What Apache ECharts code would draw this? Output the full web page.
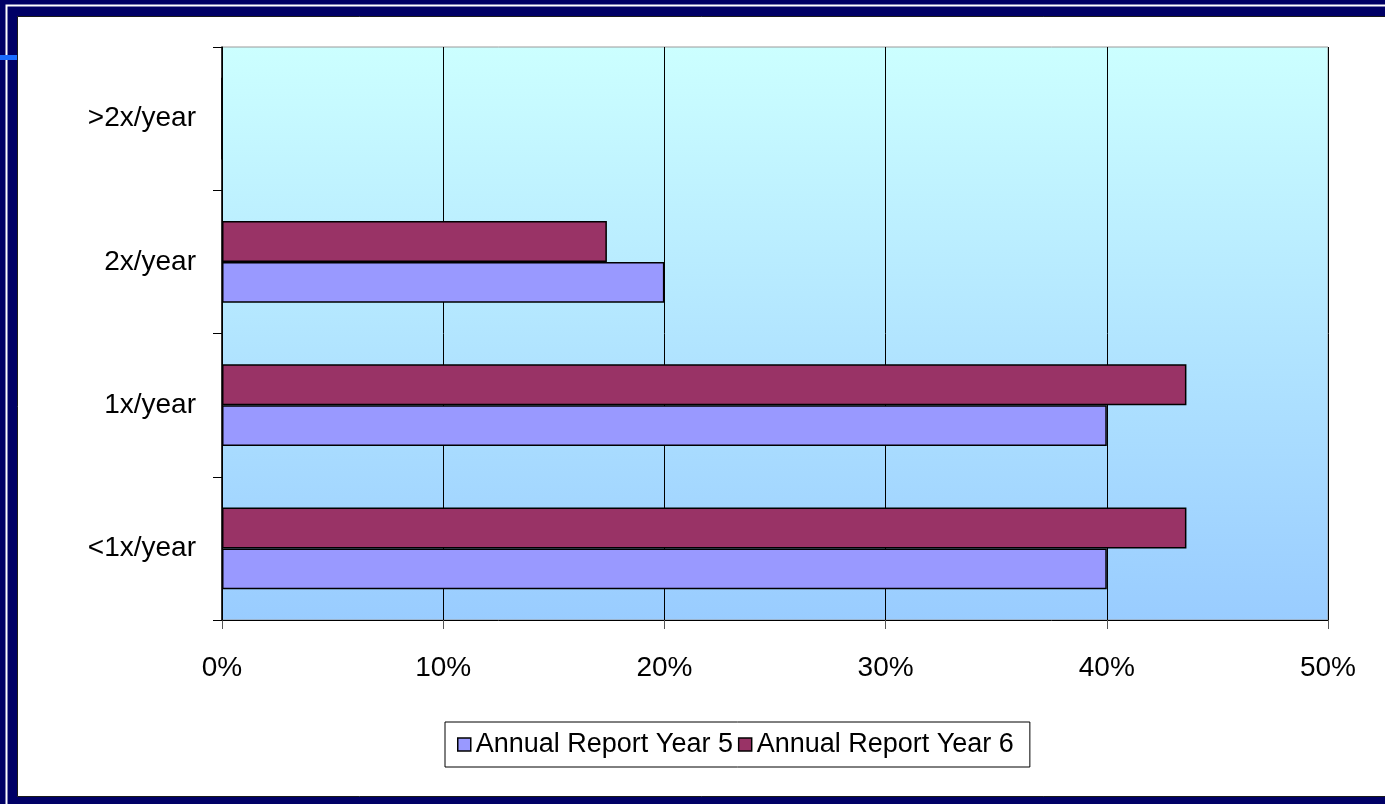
<!DOCTYPE html>
<html>
<head>
<meta charset="utf-8">
<title>Frequency chart</title>
<script src="https://cdn.jsdelivr.net/npm/echarts@6/dist/echarts.min.js"></script>
<style>
	html, body { margin: 0; padding: 0; background: #000066; }
	#chart { width: 1385px; height: 804px; }
</style>
</head>
<body>
<div id="chart"></div>
<script>
var categories = ['<1x/year', '1x/year', '2x/year', '>2x/year'];
var seriesNames = ['Annual Report Year 5', 'Annual Report Year 6'];
var year5 = [40, 40, 20, 0];
var year6 = [43.6, 43.6, 17.4, 0];
var xTicks = [0, 10, 20, 30, 40, 50];

function reportFrequency(id) {
	var dom = document.getElementById(id);
	var myChart = echarts.init(dom);
	var font = '"Liberation Sans", Arial, sans-serif';
	var option = {
		backgroundColor : '#000066',
		animation : false,
		graphic : [ {
			// slide frame
			type : 'rect',
			z : -100,
			shape : { x : 6.5, y : 5.5, width : 1400, height : 900 },
			style : { fill : null, stroke : '#ffffff', lineWidth : 2 },
			silent : true
		}, {
			type : 'rect',
			z : -99,
			shape : { x : 17.5, y : 16.5, width : 1400, height : 780 },
			style : { fill : '#ffffff', stroke : '#1a1a1a', lineWidth : 1 },
			silent : true
		}, {
			type : 'rect',
			z : -98,
			shape : { x : 0, y : 55, width : 17, height : 5 },
			style : { fill : '#1a6cff' },
			silent : true
		} ],
		grid : {
			left : 222,
			right : 57,
			top : 47,
			bottom : 184,
			show : true,
			borderColor : '#9a9a9a',
			borderWidth : 1,
			backgroundColor : new echarts.graphic.LinearGradient(0, 0, 0, 1, [
				{ offset : 0, color : '#ccffff' },
				{ offset : 1, color : '#99ccff' }
			])
		},
		legend : {
			left : 445,
			top : 722,
			data : seriesNames,
			icon : 'rect',
			itemWidth : 13,
			itemHeight : 13,
			itemGap : 5,
			padding : [ 9, 16, 9, 12 ],
			borderColor : '#000',
			borderWidth : 1,
			backgroundColor : '#fff',
			itemStyle : { borderColor : '#000', borderWidth : 1.5 },
			textStyle : {
				color : '#000',
				fontSize : 27,
				fontFamily : font
			}
		},
		xAxis : [ {
			type : 'value',
			min : 0,
			max : 50,
			interval : 10,
			axisLine : { show : true, lineStyle : { color : '#000', width : 1 } },
			axisTick : { show : true, length : 9, lineStyle : { color : '#555' } },
			axisLabel : {
				color : '#000',
				fontSize : 28,
				fontFamily : font,
				margin : 34,
				formatter : function(v) {
					return xTicks.indexOf(v) >= 0 ? v + '%' : '';
				}
			},
			splitLine : { show : true, lineStyle : { color : '#000', width : 1 } }
		} ],
		yAxis : [ {
			type : 'category',
			data : categories,
			z : 3,
			axisLine : { show : true, onZero : false, lineStyle : { color : '#000', width : 1.5 } },
			axisTick : { show : true, length : 9, lineStyle : { color : '#000' } },
			axisLabel : {
				color : '#000',
				fontSize : 28,
				fontFamily : font,
				margin : 26
			}
		} ],
		// Year 6 first so it sits above Year 5 inside each band
		series : [ {
			name : seriesNames[1],
			type : 'bar',
			data : year6,
			barGap : '0%',
			barCategoryGap : '43%',
			itemStyle : { color : '#993366', borderColor : '#000', borderWidth : 1.5 }
		}, {
			name : seriesNames[0],
			type : 'bar',
			data : year5,
			barGap : '0%',
			barCategoryGap : '43%',
			itemStyle : { color : '#9999ff', borderColor : '#000', borderWidth : 1.5 }
		} ]
	};
	myChart.setOption(option, true);
}

reportFrequency('chart');
</script>
</body>
</html>
